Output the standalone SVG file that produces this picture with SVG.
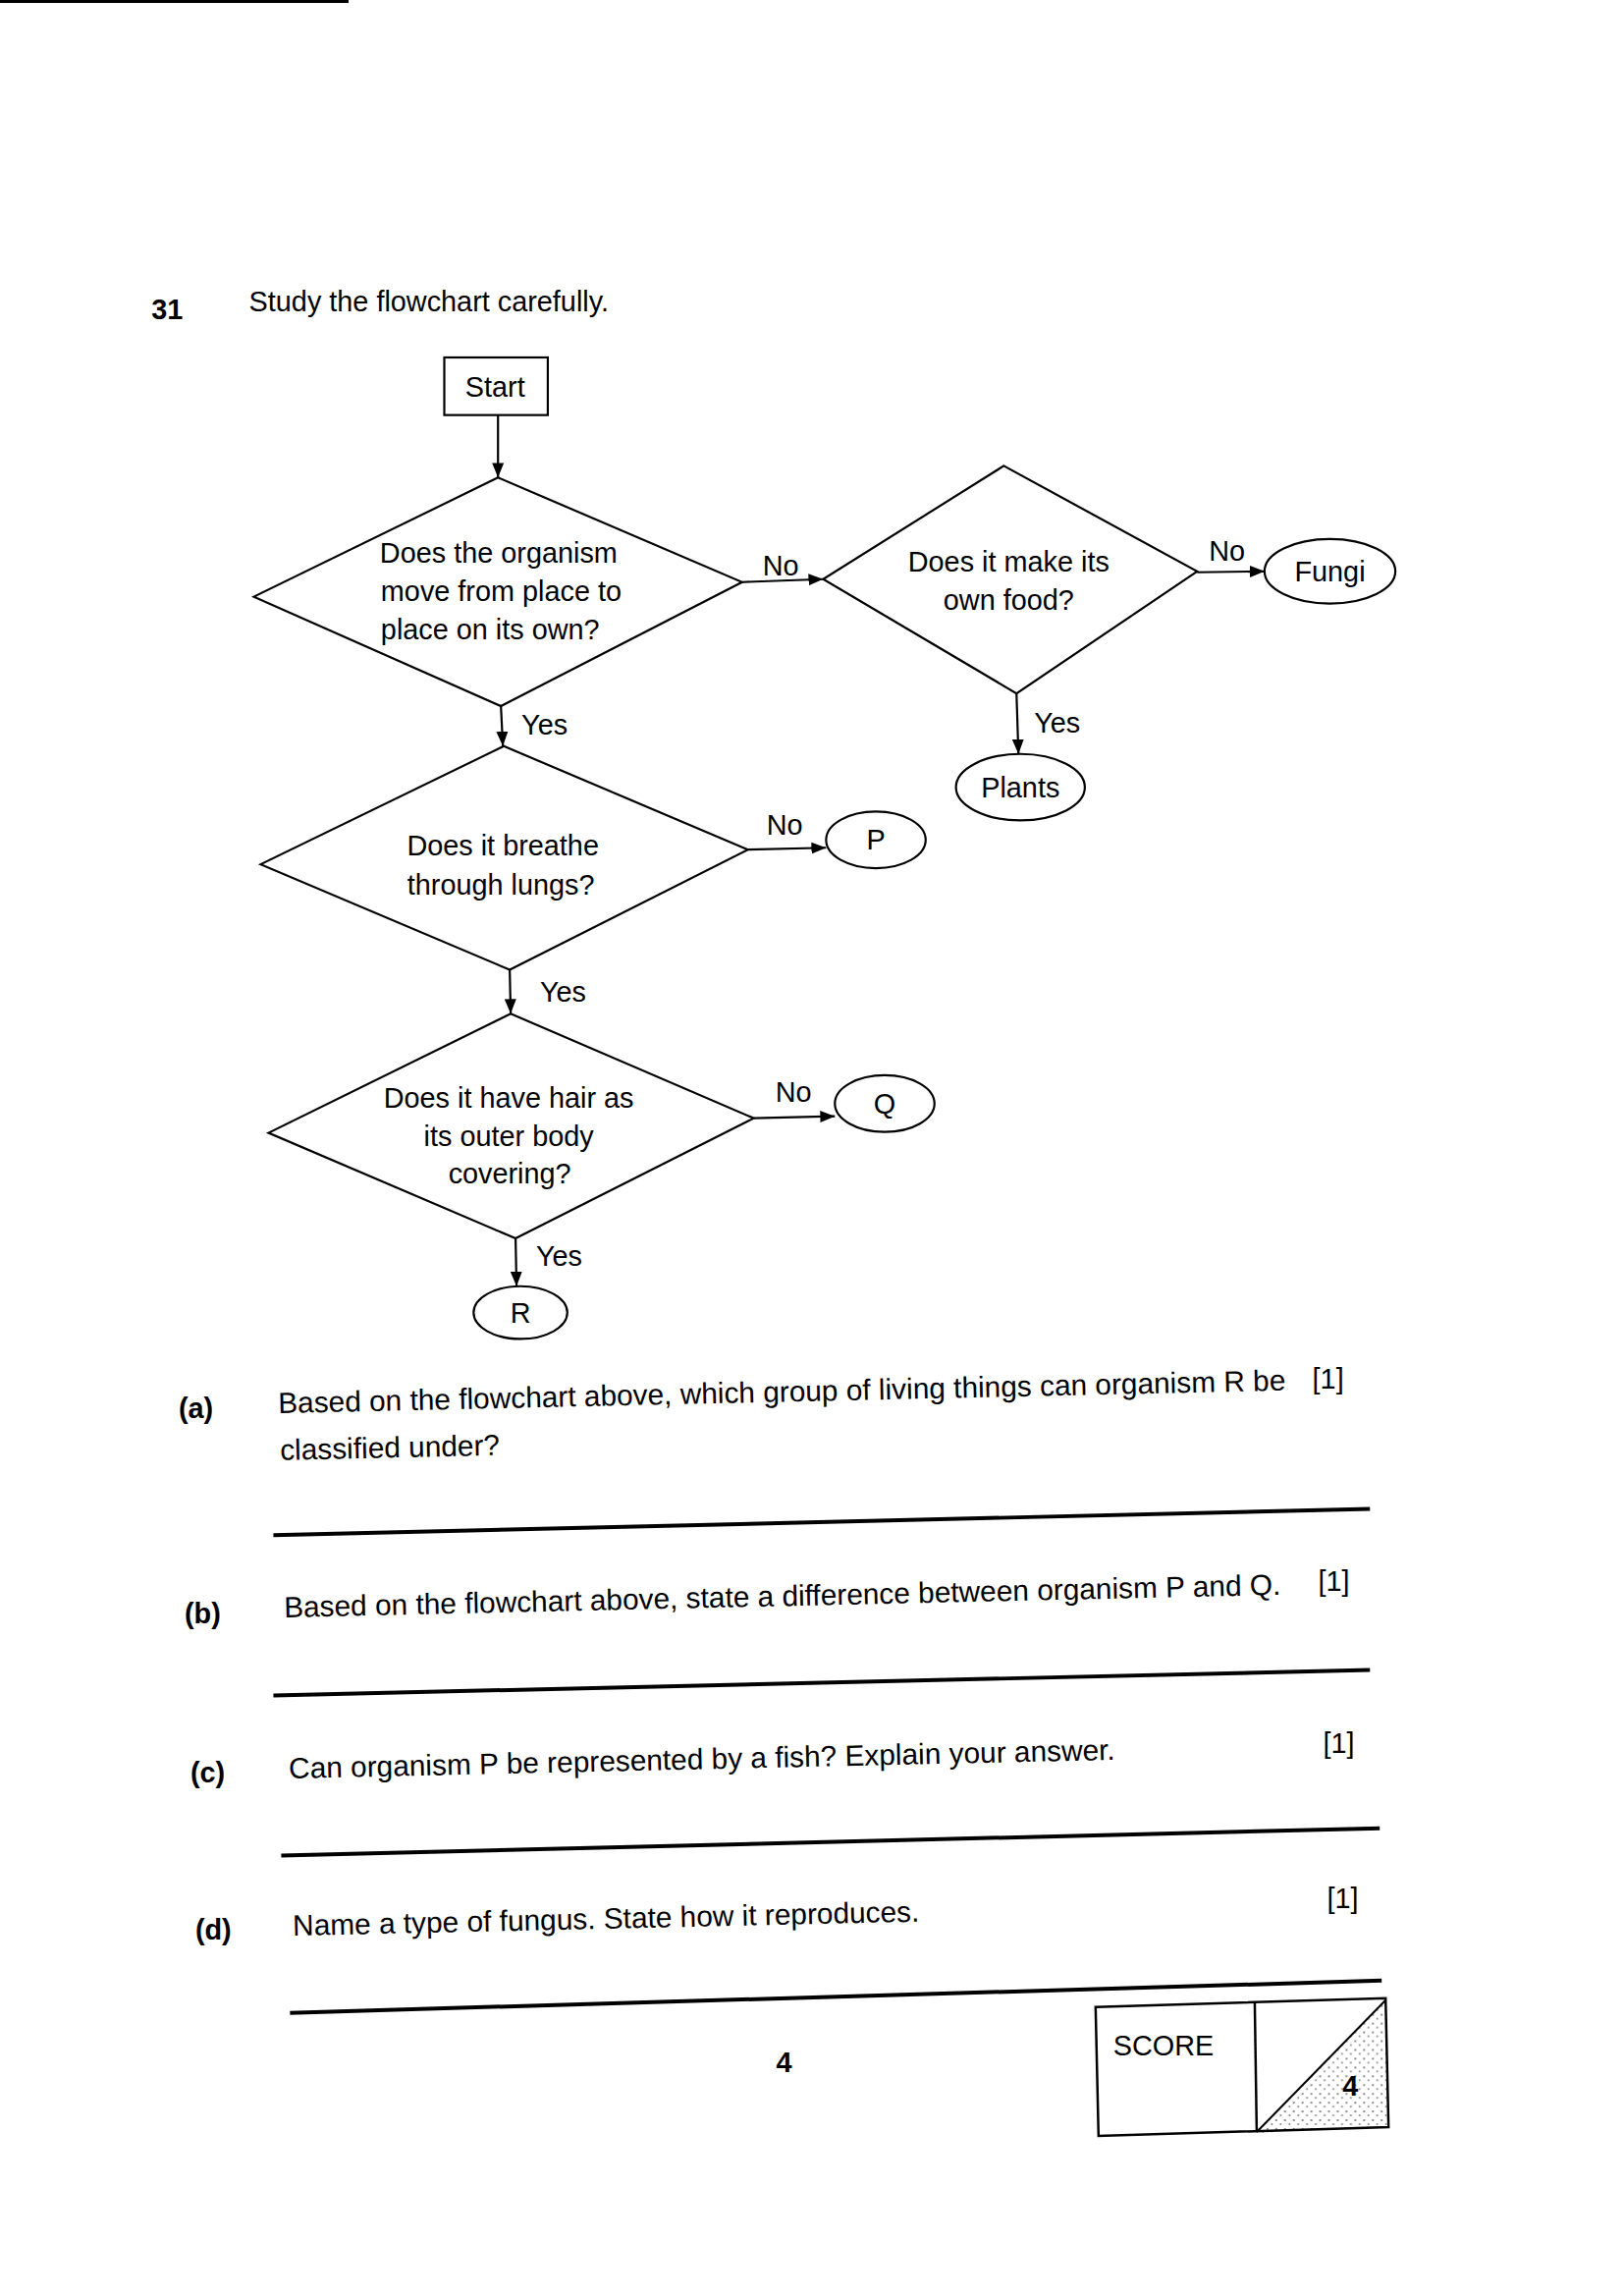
<svg xmlns="http://www.w3.org/2000/svg" width="1654" height="2338" viewBox="0 0 1654 2338">
<style>
text{font-family:"Liberation Sans",Arial,sans-serif;fill:#000}
.t{font-size:29px}
.qt{font-size:30px}
.c{text-anchor:middle}
.b{font-weight:bold}
.shape{fill:#fff;stroke:#000;stroke-width:2.2}
.conn{fill:none;stroke:#000;stroke-width:2.2}
.rule{stroke:#000;stroke-width:4;fill:none}
</style>
<defs>
<marker id="ah" markerUnits="userSpaceOnUse" markerWidth="16" markerHeight="14" refX="15" refY="7" orient="auto">
<path d="M0,1 L15,7 L0,13 Z" fill="#000"/>
</marker>
<pattern id="stip" width="9" height="9" patternUnits="userSpaceOnUse">
<circle cx="2" cy="2" r="1.1" fill="#000"/><circle cx="6.5" cy="6" r="0.9" fill="#000"/>
</pattern>
</defs>
<rect width="1654" height="2338" fill="#fff"/>
<g transform="scale(0.9945)">
<line x1="0" y1="1.5" x2="357" y2="1.5" stroke="#000" stroke-width="3"/>
<text class="t b" x="155" y="327">31</text>
<text class="t" x="255" y="319">Study the flowchart carefully.</text>

<g id="connectors">
<line class="conn" x1="510" y1="425" x2="510" y2="489" marker-end="url(#ah)"/>
<line class="conn" x1="760" y1="596" x2="843" y2="593" marker-end="url(#ah)"/>
<line class="conn" x1="1226" y1="586" x2="1295" y2="585" marker-end="url(#ah)"/>
<line class="conn" x1="1041" y1="710" x2="1043" y2="772" marker-end="url(#ah)"/>
<line class="conn" x1="513" y1="723" x2="515" y2="764" marker-end="url(#ah)"/>
<line class="conn" x1="766" y1="870" x2="846" y2="868" marker-end="url(#ah)"/>
<line class="conn" x1="522" y1="993" x2="523" y2="1038" marker-end="url(#ah)"/>
<line class="conn" x1="772" y1="1145" x2="855" y2="1143" marker-end="url(#ah)"/>
<line class="conn" x1="528" y1="1268" x2="529" y2="1317" marker-end="url(#ah)"/>
<text class="t" x="781" y="589">No</text>
<text class="t" x="1238" y="574">No</text>
<text class="t" x="1059" y="750">Yes</text>
<text class="t" x="534" y="752">Yes</text>
<text class="t" x="785" y="855">No</text>
<text class="t" x="553" y="1026">Yes</text>
<text class="t" x="794" y="1128">No</text>
<text class="t" x="549" y="1296">Yes</text>
</g>

<g id="start">
<rect class="shape" x="455" y="366" width="106" height="59"/>
<text class="t c" x="507" y="406">Start</text>
</g>
<g id="q-move">
<polygon class="shape" points="510,489 760,596 513,723 260,611"/>
<text class="t" x="389" y="576">Does the organism</text>
<text class="t" x="390" y="615">move from place to</text>
<text class="t" x="390" y="655">place on its own?</text>
</g>
<g id="q-food">
<polygon class="shape" points="1028,477 1226,585 1041,710 843,593"/>
<text class="t c" x="1033" y="585">Does it make its</text>
<text class="t c" x="1033" y="624">own food?</text>
</g>
<g id="fungi">
<ellipse class="shape" cx="1362" cy="585" rx="67" ry="33"/>
<text class="t c" x="1362" y="595">Fungi</text>
</g>
<g id="plants">
<ellipse class="shape" cx="1045" cy="806" rx="66" ry="34"/>
<text class="t c" x="1045" y="816">Plants</text>
</g>
<g id="q-lungs">
<polygon class="shape" points="516,764 766,870 522,993 267,885"/>
<text class="t c" x="515" y="876">Does it breathe</text>
<text class="t c" x="513" y="916">through lungs?</text>
</g>
<g id="p">
<ellipse class="shape" cx="897" cy="860" rx="51" ry="29"/>
<text class="t c" x="897" y="870">P</text>
</g>
<g id="q-hair">
<polygon class="shape" points="523,1038 772,1145 528,1268 275,1160"/>
<text class="t c" x="521" y="1134">Does it have hair as</text>
<text class="t c" x="521" y="1173">its outer body</text>
<text class="t c" x="522" y="1212">covering?</text>
</g>
<g id="q">
<ellipse class="shape" cx="906" cy="1130" rx="51" ry="29"/>
<text class="t c" x="906" y="1140">Q</text>
</g>
<g id="r">
<ellipse class="shape" cx="533" cy="1344" rx="48" ry="27"/>
<text class="t c" x="533" y="1354">R</text>
</g>

<g id="questions">
<text class="t b" x="183" y="1452">(a)</text>
<text class="qt" x="285" y="1447" transform="rotate(-1.3 285 1447)">Based on the flowchart above, which group of living things can organism R be</text>
<text class="t" x="1344" y="1422">[1]</text>
<text class="qt" x="287" y="1495" transform="rotate(-1.3 287 1495)">classified under?</text>
<line class="rule" x1="280" y1="1572" x2="1403" y2="1545"/>

<text class="t b" x="189" y="1662">(b)</text>
<text class="qt" x="291" y="1656" transform="rotate(-1.3 291 1656)">Based on the flowchart above, state a difference between organism P and Q.</text>
<text class="t" x="1350" y="1629">[1]</text>
<line class="rule" x1="280" y1="1736" x2="1403" y2="1710"/>

<text class="t b" x="195" y="1825">(c)</text>
<text class="qt" x="296" y="1821" transform="rotate(-1.3 296 1821)">Can organism P be represented by a fish? Explain your answer.</text>
<text class="t" x="1355" y="1795">[1]</text>
<line class="rule" x1="288" y1="1900" x2="1413" y2="1872"/>

<text class="t b" x="200" y="1986">(d)</text>
<text class="qt" x="300" y="1982" transform="rotate(-1.3 300 1982)">Name a type of fungus. State how it reproduces.</text>
<text class="t" x="1359" y="1954">[1]</text>
<line class="rule" x1="297" y1="2061" x2="1415" y2="2028"/>

<text class="t b c" x="803" y="2122">4</text>
</g>

<g id="score">
<polygon points="1286,2184 1419,2049 1422,2178" fill="url(#stip)" opacity="0.55"/>
<polygon points="1122,2055 1419,2046 1422,2178 1125,2187" fill="none" stroke="#000" stroke-width="2.5"/>
<line x1="1285" y1="2051" x2="1287" y2="2183" stroke="#000" stroke-width="2.5"/>
<line x1="1287" y1="2183" x2="1419" y2="2048" stroke="#000" stroke-width="2"/>
<text class="t" x="1140" y="2105">SCORE</text>
<text class="t b c" x="1383" y="2146">4</text>
</g>
</g>
</svg>
